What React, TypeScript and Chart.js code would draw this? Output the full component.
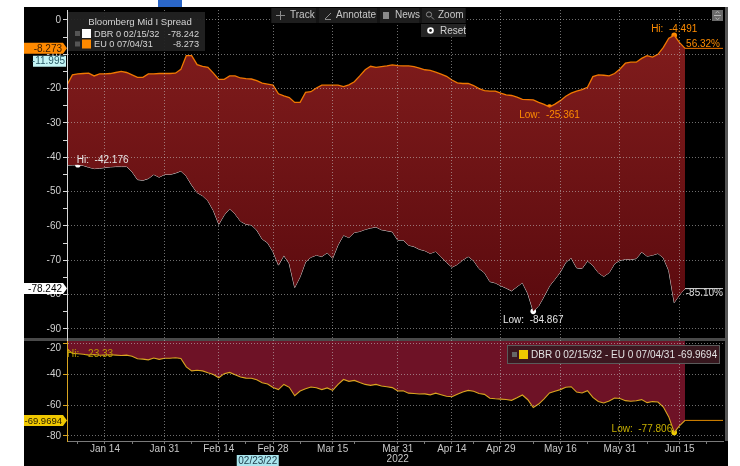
import React, { useEffect, useRef } from 'react';
import { Chart, registerables } from 'chart.js';

Chart.register(...registerables);

// ---------------- data (trading days 05 Jan 2022 .. 16 Jun 2022) ----------------
const euSpread = [
  -18.94, -16.0, -15.7, -15.6, -15.5, -16.3, -15.7, -15.7, -15.6, -15.3,
  -15.0, -15.3, -16.0, -16.7, -16.7, -15.7, -15.7, -15.6, -15.6, -15.6,
  -15.5, -14.4, -10.4, -10.4, -13.0, -13.5, -13.8, -15.5, -17.3, -17.3,
  -16.3, -16.3, -16.9, -17.1, -17.2, -17.7, -18.4, -18.7, -19.0, -21.5,
  -22.1, -22.6, -24.0, -24.0, -21.1, -20.9, -19.8, -19.0, -19.0, -19.0,
  -19.0, -19.4, -18.9, -18.0, -16.3, -14.5, -13.5, -13.8, -13.6, -13.4,
  -13.1, -13.3, -13.4, -13.4, -13.6, -14.0, -14.5, -14.7, -15.2, -15.8,
  -16.4, -17.5, -18.3, -18.5, -18.5, -19.1, -20.0, -20.6, -20.7, -20.7,
  -21.3, -21.8, -22.0, -22.5, -23.1, -23.2, -23.3, -24.0, -24.6, -25.361,
  -24.5, -23.5, -22.2, -21.3, -20.7, -20.3, -19.6, -16.5, -16.0, -16.1,
  -16.3, -15.6, -14.3, -12.6, -12.3, -12.3, -11.2, -10.4, -10.8, -10.0,
  -8.0, -5.3, -4.491, -6.6, -8.273,
];

const dbrSpread = [
  -42.27, -42.25, -42.176, -42.4, -42.9, -43.3, -43.2, -43.0, -42.8, -42.7,
  -42.7, -42.7, -44.2, -46.5, -46.7, -46.2, -45.0, -45.8, -45.0, -45.0,
  -44.6, -44.0, -45.5, -48.1, -50.3, -51.2, -52.7, -55.5, -59.5, -56.8,
  -55.0, -56.5, -58.6, -59.5, -59.7, -61.2, -63.8, -64.9, -67.5, -71.4,
  -68.6, -71.0, -77.9, -74.8, -70.5, -69.1, -68.5, -68.9, -67.8, -69.4,
  -65.5, -62.7, -63.4, -61.9, -61.6, -61.0, -60.6, -60.3, -61.1, -61.4,
  -61.7, -64.1, -64.1, -65.6, -66.0, -66.8, -67.2, -68.0, -67.4, -69.0,
  -70.6, -72.0, -71.2, -69.9, -68.9, -70.1, -72.4, -73.6, -76.2, -76.6,
  -77.4, -78.1, -78.9, -77.7, -76.5, -79.7, -84.867, -83.3, -80.5, -77.5,
  -75.5, -73.4, -70.6, -69.3, -72.2, -72.4, -70.2, -71.5, -73.6, -74.7,
  -73.6, -71.0, -70.0, -69.7, -69.8, -69.5, -67.6, -68.8, -68.5, -68.0,
  -69.3, -73.0, -82.3, -80.0, -78.242,
];

const diffSpread = [
  -23.33, -26.25, -26.48, -26.8, -27.4, -27.0, -27.5, -27.3, -27.2, -27.4,
  -27.7, -27.4, -28.2, -29.8, -30.0, -30.5, -29.3, -30.2, -29.4, -29.4,
  -29.1, -29.6, -35.1, -37.7, -37.3, -37.7, -38.9, -40.0, -42.2, -39.5,
  -38.7, -40.2, -41.7, -42.4, -42.5, -43.5, -45.4, -46.2, -48.5, -49.9,
  -46.5, -48.4, -53.9, -50.8, -49.4, -48.2, -48.7, -49.9, -48.8, -50.4,
  -46.5, -43.3, -44.5, -43.9, -45.3, -46.5, -47.1, -46.5, -47.5, -48.0,
  -48.6, -50.8, -50.7, -52.2, -52.4, -52.8, -52.7, -53.3, -52.2, -53.2,
  -54.2, -54.5, -52.9, -51.4, -50.4, -51.0, -52.4, -53.0, -55.5, -55.9,
  -56.1, -56.3, -56.9, -55.2, -53.4, -56.5, -61.57, -59.3, -55.9, -52.1,
  -51.0, -49.9, -48.4, -48.0, -51.5, -52.1, -50.6, -55.0, -57.6, -58.6,
  -57.3, -55.4, -55.7, -57.1, -57.5, -57.2, -56.4, -58.4, -57.7, -58.0,
  -61.3, -67.7, -77.806, -73.4, -69.9694,
];

const xTickIndex = [7, 18, 28, 38, 49, 61, 71, 80, 91, 102, 113];
const xTickText = ['Jan 14', 'Jan 31', 'Feb 14', 'Feb 28', 'Mar 15', 'Mar 31', 'Apr 14', 'Apr 29', 'May 16', 'May 31', 'Jun 15'];
const xMinorIndex = [2, 12, 23, 33, 43, 53, 66, 75, 86, 96, 107, 118];
const yearText = '2022';
const yearTickIndex = 61;
const xMaxIndex = 121;
const crossIndex = 35;
const crossText = '02/23/22';
const axisMarkerValue = -11.995;

const upperTickValues = [0, -5, -10, -15, -20, -25, -30, -35, -40, -45, -50, -55, -60, -65, -70, -75, -80, -85, -90];
const lowerTickValues = [-20, -40, -60, -80];

const legendTitle = 'Bloomberg Mid I Spread';
const dbrName = 'DBR 0 02/15/32';
const euName = 'EU 0 07/04/31';
const diffName = 'DBR 0 02/15/32 - EU 0 07/04/31';
const toolbarItems = ['Track', 'Annotate', 'News', 'Zoom'];
const resetText = 'Reset';

// ---------------- styling ----------------
const FONT = '"Liberation Sans", Arial, Helvetica, sans-serif';
const GRID = 'rgba(200,200,200,0.55)';
const EU_COLOR = '#f07800';
const DBR_COLOR = '#dcdcdc';
const DIFF_COLOR = '#d9a520';

const fmt = (v: number) => String(parseFloat(v.toFixed(3)));
const pct = (arr: number[]) => {
  const a = arr[0];
  const b = arr[arr.length - 1];
  return ((b - a) / Math.abs(a) * 100).toFixed(2) + '%';
};
const extremes = (arr: number[]) => {
  const hi = Math.max(...arr);
  const lo = Math.min(...arr);
  return { hi, lo, iHi: arr.indexOf(hi), iLo: arr.indexOf(lo) };
};
const pts = (arr: number[]) => arr.map((y, i) => ({ x: i, y }));
const flat = (arr: number[]) => [
  { x: arr.length - 1, y: arr[arr.length - 1] },
  { x: xMaxIndex, y: arr[arr.length - 1] },
];

const euEx = extremes(euSpread);
const dbrEx = extremes(dbrSpread);
const diffEx = extremes(diffSpread);

function txt(c: any, s: string, x: number, y: number, color: string, align = 'left', size = 10) {
  c.font = `${size}px ${FONT}`;
  c.fillStyle = color;
  c.textAlign = align;
  c.textBaseline = 'middle';
  c.fillText(s, x, y);
}

function tag(c: any, s: string, yc: number, bg: string, fg: string, x0: number, x1: number, arrow: boolean, size = 10) {
  const h = 11;
  c.fillStyle = bg;
  c.beginPath();
  c.moveTo(x0, yc - h / 2);
  c.lineTo(x1, yc - h / 2);
  if (arrow) c.lineTo(x1 + 4, yc);
  c.lineTo(x1, yc + h / 2);
  c.lineTo(x0, yc + h / 2);
  c.closePath();
  c.fill();
  txt(c, s, x1 - 1, yc + 0.5, fg, 'right', size);
}

const decor = {
  id: 'decor',
  beforeDraw(chart: any) {
    const c = chart.ctx;
    c.save();
    c.fillStyle = '#ffffff';
    c.fillRect(0, 0, chart.width, chart.height);
    c.fillStyle = '#000000';
    c.fillRect(24, 7, 704, 459);
    c.fillStyle = '#2a66c8';
    c.fillRect(158, 0, 24, 7);
    c.restore();
  },
  afterDatasetsDraw(chart: any) {
    const c = chart.ctx;
    c.save();
    c.fillStyle = '#4a4a4a';
    c.fillRect(24, 338, 701, 3);
    c.fillStyle = '#555555';
    c.fillRect(725, 7, 3, 434);
    c.restore();
  },
  afterDraw(chart: any) {
    const c = chart.ctx;
    const xs = chart.scales.x;
    const ys = chart.scales.y;
    const y2 = chart.scales.y2;
    c.save();

    // toolbar
    c.fillStyle = '#141414';
    c.fillRect(271, 8, 195, 15);
    const boxes = [[272, 316], [319, 377], [380, 419], [422, 465]];
    const textX = [290, 336, 395, 438];
    boxes.forEach((b, k) => {
      c.fillStyle = '#1e1e1e';
      c.fillRect(b[0], 8, b[1] - b[0], 15);
      txt(c, toolbarItems[k], textX[k], 15.5, '#c8c8c8');
    });
    c.strokeStyle = '#8a8a8a';
    c.lineWidth = 1;
    c.beginPath();
    c.moveTo(276, 15.5); c.lineTo(285, 15.5);
    c.moveTo(280.5, 11); c.lineTo(280.5, 20);
    c.moveTo(325, 19); c.lineTo(331, 13);
    c.moveTo(325, 19.5); c.lineTo(331, 19.5);
    c.stroke();
    c.fillStyle = '#8a8a8a';
    c.fillRect(383, 12, 6, 7);
    c.beginPath();
    c.arc(429, 14.5, 2.6, 0, Math.PI * 2);
    c.moveTo(431, 16.5); c.lineTo(434, 19.5);
    c.stroke();

    // reset button
    c.fillStyle = '#242424';
    c.fillRect(421, 24, 45, 13);
    c.fillStyle = '#ffffff';
    c.beginPath(); c.arc(430.5, 30.5, 3.3, 0, Math.PI * 2); c.fill();
    c.fillStyle = '#242424';
    c.beginPath(); c.arc(430.5, 30.5, 1.4, 0, Math.PI * 2); c.fill();
    txt(c, resetText, 440, 31, '#d0d0d0');

    // top-right icon
    c.fillStyle = '#6a6a6a';
    c.fillRect(712, 10, 11, 11);
    c.strokeStyle = '#b8b8b8';
    c.beginPath();
    c.moveTo(714, 15.5); c.lineTo(721, 15.5);
    c.moveTo(715.5, 13); c.lineTo(717.5, 11.5); c.lineTo(719.5, 13);
    c.moveTo(715.5, 18); c.lineTo(717.5, 19.5); c.lineTo(719.5, 18);
    c.stroke();

    // upper legend
    c.fillStyle = 'rgba(34,34,34,0.95)';
    c.fillRect(68, 12, 137, 39);
    txt(c, legendTitle, 140, 22, '#d4d4d4', 'center', 9.6);
    const rows = [
      { y: 33.5, col: '#ffffff', name: dbrName, val: fmt(dbrSpread[dbrSpread.length - 1]) },
      { y: 44, col: '#ff8a00', name: euName, val: fmt(euSpread[euSpread.length - 1]) },
    ];
    rows.forEach((r) => {
      c.fillStyle = '#555555';
      c.fillRect(75, r.y - 2.5, 5, 5);
      c.fillStyle = r.col;
      c.fillRect(82, r.y - 4.5, 9, 9);
      txt(c, r.name, 94, r.y + 0.5, '#d4d4d4', 'left', 9.2);
      txt(c, r.val, 199, r.y + 0.5, '#d4d4d4', 'right', 9.2);
    });

    // lower legend
    c.fillStyle = 'rgba(58,24,32,0.95)';
    c.fillRect(507, 345, 213, 19);
    c.strokeStyle = '#5a5a5a';
    c.strokeRect(507.5, 345.5, 212, 18);
    c.fillStyle = '#666666';
    c.fillRect(512, 352, 5, 5);
    c.fillStyle = '#f0c800';
    c.fillRect(519, 350, 9, 9);
    txt(c, diffName + ' ' + diffSpread[diffSpread.length - 1].toFixed(4), 531, 355, '#e2e2e2');

    // axis tags
    const euLast = euSpread[euSpread.length - 1];
    const dbrLast = dbrSpread[dbrSpread.length - 1];
    const diffLast = diffSpread[diffSpread.length - 1];
    tag(c, fmt(euLast), ys.getPixelForValue(euLast), '#ff8a00', '#3a1c00', 24, 63, true);
    tag(c, fmt(axisMarkerValue), ys.getPixelForValue(axisMarkerValue), '#c4f4f4', '#2a5a66', 33, 66, false);
    tag(c, fmt(dbrLast), ys.getPixelForValue(dbrLast), '#ffffff', '#000000', 24, 63, true);
    tag(c, diffLast.toFixed(4), y2.getPixelForValue(diffLast), '#f0c800', '#2a2000', 24, 63, true, 9.5);

    // hi / low annotations
    const P = (i: number, v: number, s: any) => [xs.getPixelForValue(i), s.getPixelForValue(v)];
    let p = P(dbrEx.iHi, dbrEx.hi, ys);
    txt(c, 'Hi:  ' + fmt(dbrEx.hi), p[0] - 1, p[1] - 5, '#e6e6e6');
    p = P(dbrEx.iLo, dbrEx.lo, ys);
    txt(c, 'Low:  ' + fmt(dbrEx.lo), p[0], p[1] + 8.5, '#e6e6e6', 'center');
    p = P(euEx.iHi, euEx.hi, ys);
    txt(c, 'Hi:  ' + fmt(euEx.hi), p[0], p[1] - 6, '#ff8c00', 'center');
    p = P(euEx.iLo, euEx.lo, ys);
    txt(c, 'Low:  ' + fmt(euEx.lo), p[0], p[1] + 8, '#ff8c00', 'center');
    p = P(diffEx.iHi, diffEx.hi, y2);
    txt(c, 'Hi:  ' + fmt(diffEx.hi), p[0], p[1] + 5.5, '#b89a00');
    p = P(diffEx.iLo, diffEx.lo, y2);
    txt(c, 'Low:  ' + fmt(diffEx.lo), p[0] - 2, p[1] - 3, '#c8b000', 'right');

    // percentage change labels
    txt(c, pct(euSpread), 720, ys.getPixelForValue(euLast) - 4.5, '#ff8c00', 'right');
    txt(c, pct(dbrSpread), 723, ys.getPixelForValue(dbrLast) + 5, '#d8d8d8', 'right');

    // crosshair date label
    const cx = xs.getPixelForValue(crossIndex);
    c.fillStyle = '#a9e6ee';
    c.fillRect(cx - 20, 455, 42, 11);
    txt(c, crossText, cx + 1, 461, '#1e3a48', 'center');

    c.restore();
  },
};

const markerSet = (arrIdx: number[], vals: number[], axis: string, color: string) => ({
  data: arrIdx.map((i, k) => ({ x: i, y: vals[k] })),
  yAxisID: axis,
  showLine: false,
  pointRadius: 2.8,
  pointBackgroundColor: color,
  pointBorderWidth: 0,
  fill: false,
});

export default function App() {
  const ref = useRef<HTMLCanvasElement>(null);

  useEffect(() => {
    const canvas = ref.current;
    if (!canvas) return;

    const upperFill = (ctx: any) => {
      const chart = ctx.chart;
      if (!chart.chartArea) return 'rgb(110,20,22)';
      const g = chart.ctx.createLinearGradient(0, 40, 0, 330);
      g.addColorStop(0, 'rgb(128,28,28)');
      g.addColorStop(1, 'rgb(88,9,13)');
      return g;
    };

    const chart = new Chart(canvas, {
      type: 'line',
      data: {
        datasets: [
          {
            data: pts(euSpread), yAxisID: 'y', borderColor: EU_COLOR, borderWidth: 1.3,
            pointRadius: 0, tension: 0, fill: '+1', backgroundColor: upperFill,
          },
          {
            data: pts(dbrSpread), yAxisID: 'y', borderColor: DBR_COLOR, borderWidth: 1,
            pointRadius: 0, tension: 0, fill: false,
          },
          {
            data: pts(diffSpread), yAxisID: 'y2', borderColor: DIFF_COLOR, borderWidth: 1.1,
            pointRadius: 0, tension: 0, fill: 'end', backgroundColor: '#6e1226',
          },
          { data: flat(euSpread), yAxisID: 'y', borderColor: EU_COLOR, borderWidth: 1, pointRadius: 0, fill: false },
          { data: flat(dbrSpread), yAxisID: 'y', borderColor: DBR_COLOR, borderWidth: 1, pointRadius: 0, fill: false },
          { data: flat(diffSpread), yAxisID: 'y2', borderColor: '#e08a00', borderWidth: 1, pointRadius: 0, fill: false },
          markerSet([euEx.iHi, euEx.iLo], [euEx.hi, euEx.lo], 'y', '#ff8c00'),
          markerSet([dbrEx.iHi, dbrEx.iLo], [dbrEx.hi, dbrEx.lo], 'y', '#ffffff'),
          markerSet([diffEx.iHi, diffEx.iLo], [diffEx.hi, diffEx.lo], 'y2', '#f0d000'),
        ] as any,
      },
      options: {
        responsive: false,
        animation: false,
        devicePixelRatio: 1,
        events: [],
        layout: { padding: { left: 0, top: 10, right: 17, bottom: 0 } },
        plugins: { legend: { display: false }, tooltip: { enabled: false } },
        scales: {
          x: {
            type: 'linear',
            min: 0,
            max: xMaxIndex,
            afterBuildTicks: (s: any) => {
              s.ticks = [...xTickIndex, ...xMinorIndex].sort((a, b) => a - b).map((v) => ({ value: v }));
            },
            afterFit: (s: any) => { s.height = 25; },
            ticks: {
              autoSkip: false, maxRotation: 0, padding: 0, color: '#c8c8c8', z: 1,
              font: { family: FONT, size: 10, lineHeight: 1.0 },
              callback: (v: any) => {
                const k = xTickIndex.indexOf(v);
                if (k < 0) return '';
                return v === yearTickIndex ? [xTickText[k], yearText] : xTickText[k];
              },
            },
            grid: {
              z: 1, lineWidth: 1, tickLength: 3, tickColor: '#7a7a7a', tickBorderDash: [],
              color: (ctx: any) => (ctx.tick && xTickIndex.includes(ctx.tick.value) ? GRID : 'rgba(0,0,0,0)'),
            },
            border: { z: 1, color: '#7a7a7a', width: 1, dash: [1, 2] },
          },
          y: {
            type: 'linear', position: 'left', stack: 'panes', stackWeight: 331, weight: 1,
            min: -93.5, max: 2.9,
            afterBuildTicks: (s: any) => { s.ticks = upperTickValues.map((v) => ({ value: v })); },
            afterFit: (s: any) => { s.width = 67; },
            ticks: {
              autoSkip: false, color: '#d0d0d0', padding: 2, z: 1, font: { family: FONT, size: 10 },
              callback: (v: any) => (v % 10 === 0 ? String(v) : ''),
            },
            grid: {
              z: 1, lineWidth: 1, tickLength: 4, tickColor: '#d8d8d8', tickBorderDash: [],
              color: (ctx: any) => (ctx.tick && ctx.tick.value % 10 === 0 ? GRID : 'rgba(0,0,0,0)'),
            },
            border: { z: 1, color: '#d8d8d8', width: 1, dash: [1, 2] },
          },
          y2: {
            type: 'linear', position: 'left', stack: 'panes', stackWeight: 100, weight: 0,
            min: -83.4, max: -18.2,
            afterBuildTicks: (s: any) => { s.ticks = lowerTickValues.map((v) => ({ value: v })); },
            afterFit: (s: any) => { s.width = 67; },
            ticks: {
              autoSkip: false, color: '#d0d0d0', padding: 2, z: 1, font: { family: FONT, size: 10, lineHeight: 0.8 },
              callback: (v: any) => (v === lowerTickValues[0] ? [' ', String(v)] : String(v)),
            },
            grid: { z: 1, lineWidth: 1, tickLength: 4, tickColor: '#d9a520', tickBorderDash: [], color: GRID },
            border: { z: 1, color: '#d9a520', width: 1, dash: [1, 2] },
          },
        },
      } as any,
      plugins: [decor],
    });

    return () => chart.destroy();
  }, []);

  return (
    <div style={{ position: 'absolute', left: 0, top: 0, width: 740, height: 466, background: '#ffffff' }}>
      <canvas ref={ref} width={740} height={466} style={{ display: 'block', width: 740, height: 466 }} />
    </div>
  );
}
